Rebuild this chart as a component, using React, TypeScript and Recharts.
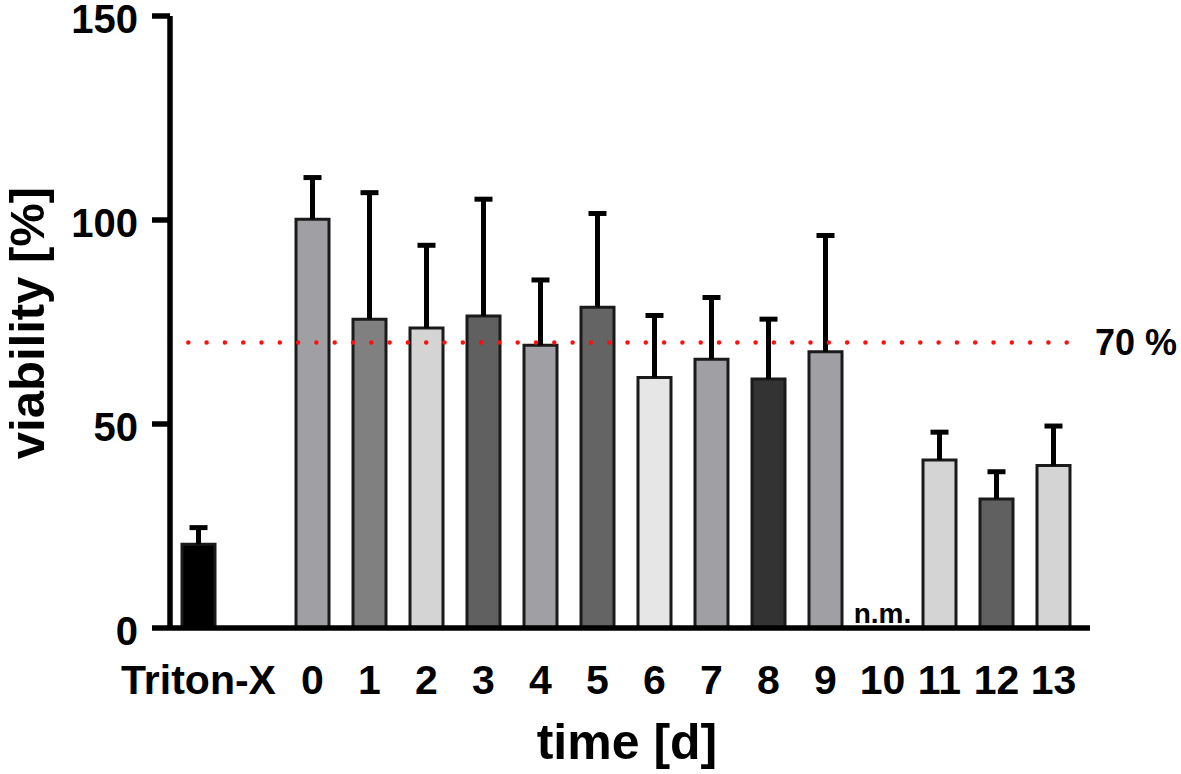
import { BarChart, Bar, XAxis, YAxis, Cell, ReferenceLine, ReferenceDot } from 'recharts';

const FONT = '"Liberation Sans", Arial, sans-serif';

// second category is an empty spacer between the control and day 0
const categories = ['Triton-X', '', '0', '1', '2', '3', '4', '5', '6', '7', '8', '9', '10', '11', '12', '13'];
const viability = [20.5, null, 100.2, 75.7, 73.5, 76.5, 69.3, 78.6, 61.4, 65.9, 61.0, 67.7, null, 41.2, 31.6, 39.8];
const sdUpper = [4.1, null, 10.2, 31.0, 20.3, 28.6, 16.0, 23.0, 15.2, 15.1, 14.7, 28.5, null, 6.8, 6.7, 9.7];
const barColors = ['#000000', '#ffffff', '#a0a0a4', '#808080', '#d4d4d4', '#606060', '#a0a0a4', '#646464',
  '#e6e6e6', '#a0a0a4', '#333333', '#a0a0a4', '#ffffff', '#d4d4d4', '#606060', '#d4d4d4'];
const yTicks = [0, 50, 100, 150];
const threshold = 70;
const notMeasured = '10';

const data = categories.map((day, i) => ({
  day,
  viability: viability[i],
  sd: sdUpper[i],
}));

function DayTick({ x, y, payload }: any) {
  return (
    <text x={x} y={y} dy={64} textAnchor="middle" fontFamily={FONT} fontSize={41} fontWeight="bold" fill="#000">
      {payload.value}
    </text>
  );
}

function ViabilityTick({ x, y, payload }: any) {
  return (
    <text x={x} y={y} dy={17} textAnchor="end" fontFamily={FONT} fontSize={40} fontWeight="bold" fill="#000">
      {payload.value}
    </text>
  );
}

// upper whisker: the stacked segment from mean to mean + SD
function Whisker({ x, y, width, height }: any) {
  if (height == null || !(height > 0)) return null;
  const cx = x + width / 2;
  return (
    <g stroke="#000" strokeWidth={5}>
      <line x1={cx} y1={y + height} x2={cx} y2={y} />
      <line x1={cx - 9} y1={y} x2={cx + 9} y2={y} />
    </g>
  );
}

export default function App() {
  return (
    <div style={{ position: 'absolute', left: 0, top: 0, background: '#fff', fontFamily: FONT }}>
      <BarChart width={1181} height={774} data={data} margin={{ top: 16, right: 91, bottom: 26, left: 0 }}>
        <XAxis
          dataKey="day"
          height={120}
          padding={{ left: 0, right: 8 }}
          axisLine={{ stroke: '#000', strokeWidth: 5.5 }}
          tickLine={false}
          tickSize={0}
          tick={<DayTick />}
          interval={0}
        />
        <YAxis
          width={170}
          domain={[0, 150]}
          ticks={yTicks}
          allowDataOverflow
          axisLine={{ stroke: '#000', strokeWidth: 5.5 }}
          tickLine={{ stroke: '#000', strokeWidth: 5.5 }}
          tickSize={18}
          tickMargin={14}
          tick={<ViabilityTick />}
        />
        <Bar dataKey="viability" stackId="v" barSize={33} stroke="#1a1a1a" strokeWidth={3} isAnimationActive={false}>
          {data.map((d, i) => (
            <Cell key={i} fill={barColors[i]} />
          ))}
        </Bar>
        <Bar dataKey="sd" stackId="v" barSize={33} shape={<Whisker />} isAnimationActive={false} />
        <ReferenceLine
          y={threshold}
          shape={(p: any) => (
            <line
              x1={p.x1}
              y1={p.y1}
              x2={p.x2 - 18}
              y2={p.y2}
              stroke="#ff1010"
              strokeWidth={4.5}
              strokeDasharray="0 18.3"
              strokeLinecap="round"
            />
          )}
          label={{ value: '70 %', position: 'right', offset: 5, fontSize: 36, fontWeight: 'bold', fill: '#000', fontFamily: FONT }}
        />
        <ReferenceDot
          x={notMeasured}
          y={0}
          r={0}
          fill="none"
          stroke="none"
          label={{ value: 'n.m.', position: 'top', offset: 5, fontSize: 28, fontWeight: 'bold', fill: '#000', fontFamily: FONT }}
        />
        <text x={44} y={323} transform="rotate(-90, 44, 323)" textAnchor="middle" fontFamily={FONT} fontSize={49} fontWeight="bold" fill="#000">
          viability [%]
        </text>
        <text x={627} y={759} textAnchor="middle" fontFamily={FONT} fontSize={50} fontWeight="bold" fill="#000">
          time [d]
        </text>
      </BarChart>
    </div>
  );
}
